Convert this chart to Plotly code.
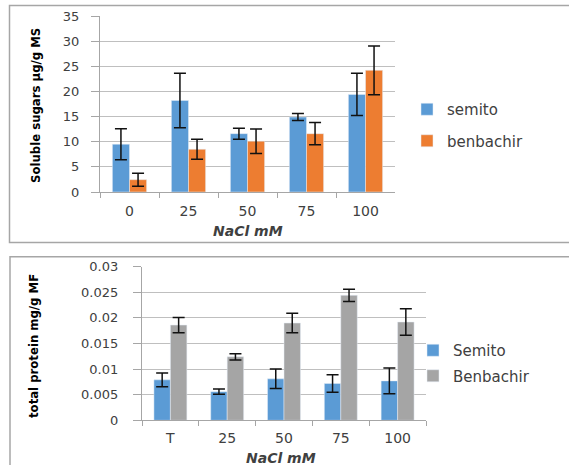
import plotly.graph_objects as go

W, H = 569, 465

# ---- data: top chart (soluble sugars) ----
sugar_cats = ["0", "25", "50", "75", "100"]
sugar_semito = [9.5, 18.2, 11.6, 14.9, 19.4]
sugar_semito_err = [3.1, 5.4, 1.1, 0.7, 4.2]
sugar_benbachir = [2.45, 8.5, 10.1, 11.6, 24.2]
sugar_benbachir_err = [1.3, 2.0, 2.45, 2.2, 4.85]

# ---- data: bottom chart (total protein) ----
prot_cats = ["T", "25", "50", "75", "100"]
prot_semito = [0.0079, 0.0056, 0.0081, 0.0072, 0.0077]
prot_semito_err = [0.00135, 0.0005, 0.0019, 0.0017, 0.0025]
prot_benbachir = [0.0186, 0.0124, 0.0190, 0.0244, 0.0192]
prot_benbachir_err = [0.0015, 0.0006, 0.0019, 0.0012, 0.0026]

BLUE = "#5b9bd5"
ORANGE = "#ed7d31"
GRAY = "#a5a5a5"
AX = "#a6a6a6"
TXT = "#404040"
FONT = "DejaVu Sans"


def px(x):
    return x / W


def py(y):
    return 1 - y / H


fig = go.Figure()

err_style = dict(type="data", color="#111111", thickness=1.5, width=6)

fig.add_trace(go.Bar(x=sugar_cats, y=sugar_semito, name="semito", marker_color=BLUE,
                     error_y=dict(array=sugar_semito_err, **err_style),
                     xaxis="x", yaxis="y", legend="legend", legendgroup="a"))
fig.add_trace(go.Bar(x=sugar_cats, y=sugar_benbachir, name="benbachir", marker_color=ORANGE,
                     error_y=dict(array=sugar_benbachir_err, **err_style),
                     xaxis="x", yaxis="y", legend="legend", legendgroup="b"))
fig.add_trace(go.Bar(x=prot_cats, y=prot_semito, name="Semito", marker_color=BLUE,
                     error_y=dict(array=prot_semito_err, **err_style),
                     xaxis="x2", yaxis="y2", legend="legend2", legendgroup="c"))
fig.add_trace(go.Bar(x=prot_cats, y=prot_benbachir, name="Benbachir", marker_color=GRAY,
                     error_y=dict(array=prot_benbachir_err, **err_style),
                     xaxis="x2", yaxis="y2", legend="legend2", legendgroup="d"))

xcommon = dict(type="category", showline=True, linecolor=AX, linewidth=1.3,
               ticks="outside", tickson="boundaries", ticklen=5, tickcolor=AX,
               showgrid=False, tickfont=dict(family=FONT, size=14, color=TXT),
               fixedrange=True, automargin=False)
ycommon = dict(showline=True, linecolor=AX, linewidth=1.3, ticks="outside",
               ticklen=8, tickcolor=AX, showgrid=True, gridcolor="#bfbfbf",
               gridwidth=1.3, zeroline=False, automargin=False,
               tickfont=dict(family=FONT, size=13, color=TXT))

fig.update_layout(
    width=W, height=H,
    margin=dict(l=0, r=0, t=0, b=0),
    paper_bgcolor="white", plot_bgcolor="white",
    barmode="group", bargap=0.42, bargroupgap=0,
    xaxis=dict(domain=[px(100), px(395)], anchor="y", ticklabelstandoff=6, **xcommon),
    yaxis=dict(domain=[py(192), py(16)], anchor="x", range=[0, 35], dtick=5,
               ticklabelstandoff=9, **ycommon),
    xaxis2=dict(domain=[px(142), px(426)], anchor="y2", ticklabelstandoff=5, **xcommon),
    yaxis2=dict(domain=[py(420.3), py(266.7)], anchor="x2", range=[0, 0.03], dtick=0.005,
                tickformat="~g", ticklabelstandoff=12, **ycommon),
    legend=dict(x=px(407), y=py(93), xanchor="left", yanchor="top",
                font=dict(family=FONT, size=15, color=TXT),
                traceorder="grouped", tracegroupgap=9, bgcolor="rgba(0,0,0,0)"),
    legend2=dict(x=px(413), y=py(334), xanchor="left", yanchor="top",
                 font=dict(family=FONT, size=15, color=TXT),
                 traceorder="grouped", tracegroupgap=3, bgcolor="rgba(0,0,0,0)"),
    showlegend=True,
)

# frames around each chart
fig.add_shape(type="rect", xref="paper", yref="paper",
              x0=px(9.5), x1=px(575), y0=py(242.5), y1=py(5.5),
              line=dict(color=AX, width=1.5), layer="below")
fig.add_shape(type="rect", xref="paper", yref="paper",
              x0=px(10), x1=px(575), y0=py(475), y1=py(256.7),
              line=dict(color=AX, width=1.5), layer="below")

# axis titles
title_font = dict(family="DejaVu Sans Condensed", size=13, color="#000")
fig.add_annotation(text="<b>Soluble sugars µg/g MS</b>", xref="paper", yref="paper",
                   x=px(35), y=py(106), xanchor="center", yanchor="middle",
                   textangle=-90, showarrow=False, font=title_font)
fig.add_annotation(text="<b>total protein mg/g MF</b>", xref="paper", yref="paper",
                   x=px(33), y=py(346), xanchor="center", yanchor="middle",
                   textangle=-90, showarrow=False, font=title_font)
fig.add_annotation(text="<b><i>NaCl mM</i></b>", xref="paper", yref="paper",
                   x=px(248), y=py(231), xanchor="center", yanchor="middle",
                   showarrow=False, font=dict(family=FONT, size=14, color=TXT))
fig.add_annotation(text="<b><i>NaCl mM</i></b>", xref="paper", yref="paper",
                   x=px(281), y=py(458), xanchor="center", yanchor="middle",
                   showarrow=False, font=dict(family=FONT, size=14, color=TXT))

fig.write_html("out.html", config={"displayModeBar": False},
               post_script="document.body.style.margin='0';document.body.style.overflow='hidden';")
